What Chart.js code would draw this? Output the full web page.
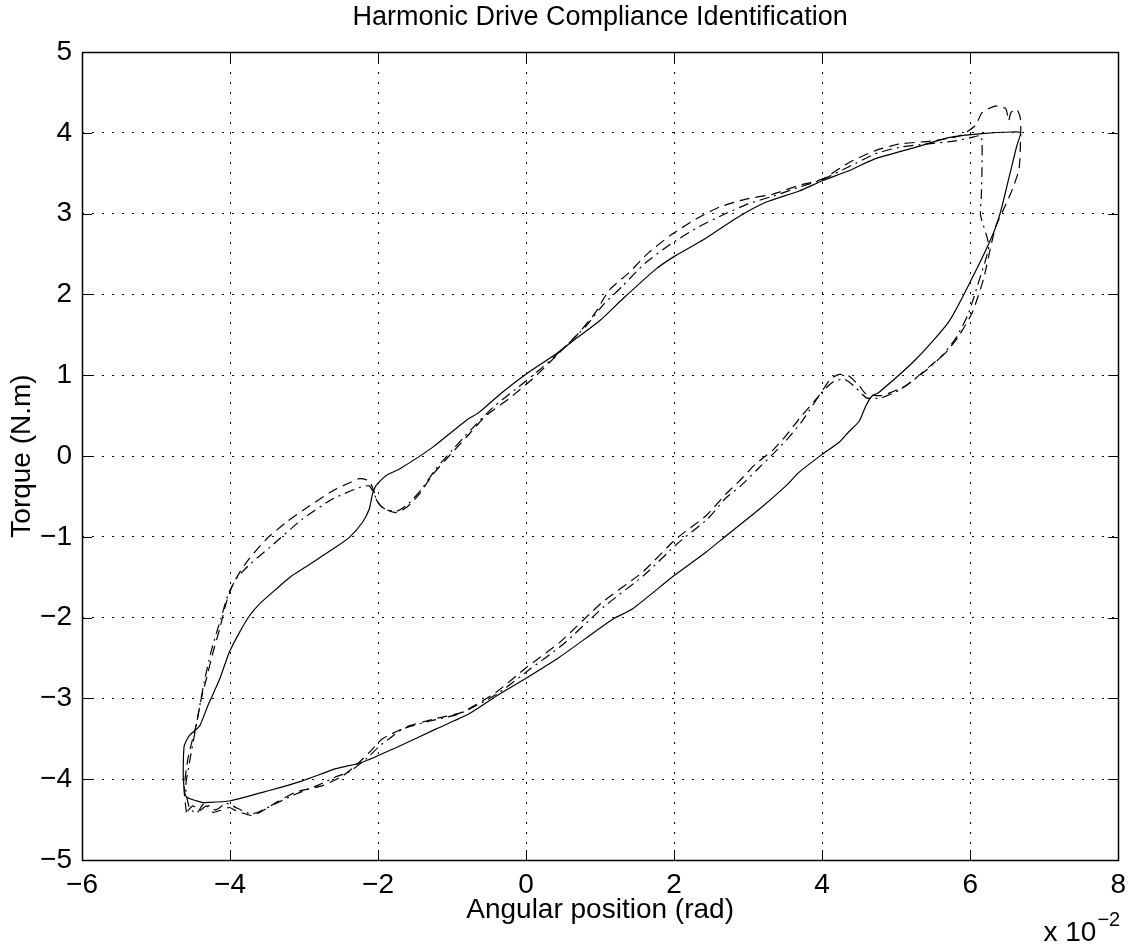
<!DOCTYPE html>
<html><head><meta charset="utf-8">
<script src="https://cdn.jsdelivr.net/npm/chart.js@4.4.1/dist/chart.umd.min.js"></script>
<style>html,body{margin:0;padding:0;background:#fff;overflow:hidden}</style>
</head><body>
<canvas id="c" width="1134" height="948"></canvas>
<script>
const titleText = 'Harmonic Drive Compliance Identification';
const xAxisTitle = 'Angular position (rad)';
const yAxisTitle = 'Torque (N.m)';
const xTicks = [-6, -4, -2, 0, 2, 4, 6, 8];
const xTickLabels = ['\u22126', '\u22124', '\u22122', '0', '2', '4', '6', '8'];
const yTicks = [-5, -4, -3, -2, -1, 0, 1, 2, 3, 4, 5];
const yTickLabels = ['\u22125', '\u22124', '\u22123', '\u22122', '\u22121', '0', '1', '2', '3', '4', '5'];
const xMultiplierBase = 'x 10';
const xMultiplierExp = '\u22122';

// x in units of 1e-2 rad, y in N.m
const solidPoints = [
  [-4.37,-4.29],[-4.59,-4.22],[-4.63,-4.00],[-4.62,-3.59],[-4.55,-3.46],[-4.41,-3.34],[-4.30,-3.09],
  [-4.14,-2.76],[-4.01,-2.43],[-3.87,-2.18],[-3.74,-1.98],[-3.60,-1.83],[-3.38,-1.65],[-3.16,-1.48],
  [-2.89,-1.32],[-2.61,-1.15],[-2.39,-1.01],[-2.21,-0.82],[-2.12,-0.66],[-2.08,-0.49],[-2.03,-0.37],
  [-1.89,-0.24],[-1.71,-0.16],[-1.26,0.11],[-0.81,0.44],[-0.635,0.54],[-0.32,0.79],[0.04,1.04],
  [0.40,1.26],[0.67,1.45],[0.99,1.67],[1.30,1.94],[1.75,2.31],[2.02,2.48],[2.40,2.68],[2.85,2.95],
  [3.24,3.14],[3.69,3.28],[4.01,3.41],[4.36,3.53],[4.72,3.68],[5.26,3.82],[5.71,3.94],[6.16,3.99],
  [6.57,4.01],[6.68,4.00],[6.63,3.84],[6.52,3.43],[6.41,3.02],[6.30,2.73],[6.02,2.19],[5.71,1.66],
  [5.27,1.20],[4.77,0.79],[4.67,0.74],[4.59,0.62],[4.50,0.43],[4.36,0.30],[4.23,0.17],[4.00,0.02],
  [3.69,-0.20],[3.51,-0.37],[3.15,-0.66],[2.70,-0.99],[2.43,-1.19],[2.00,-1.48],[1.44,-1.89],
  [1.17,-2.02],[0.45,-2.49],[0.00,-2.75],[-0.40,-2.97],[-0.77,-3.19],[-1.22,-3.38],[-1.76,-3.61],
  [-2.21,-3.79],[-2.57,-3.87],[-3.02,-4.02],[-3.47,-4.14],[-4.01,-4.27],[-4.37,-4.29]
];
const dashedPoints = [
  [-4.59,-4.41],[-4.62,-4.12],[-4.57,-3.75],[-4.53,-3.59],[-4.46,-3.34],[-4.39,-3.01],[-4.32,-2.76],
  [-4.23,-2.43],[-4.14,-2.14],[-4.05,-1.81],[-3.97,-1.61],[-3.87,-1.44],[-3.74,-1.27],[-3.51,-1.03],
  [-3.24,-0.82],[-2.93,-0.62],[-2.61,-0.43],[-2.43,-0.35],[-2.25,-0.28],[-2.12,-0.31],[-2.05,-0.45],
  [-2.03,-0.53],[-1.94,-0.64],[-1.76,-0.70],[-1.62,-0.64],[-1.44,-0.47],[-1.27,-0.24],[-1.08,-0.04],
  [-0.81,0.23],[-0.54,0.50],[-0.23,0.71],[0.13,0.99],[0.45,1.28],[0.72,1.53],[0.94,1.78],[1.12,2.05],
  [1.39,2.27],[1.66,2.52],[1.98,2.75],[2.29,2.93],[2.61,3.08],[2.97,3.18],[3.33,3.24],[3.69,3.35],
  [4.01,3.43],[4.36,3.63],[4.72,3.78],[5.04,3.86],[5.49,3.90],[5.85,3.96],[6.07,4.09],[6.16,4.25],
  [6.34,4.33],[6.48,4.30],[6.52,4.15],[6.55,4.25],[6.63,4.29],[6.68,4.17],[6.68,3.90],[6.66,3.55],
  [6.57,3.30],[6.45,3.05],[6.35,2.85],[6.29,2.64],[6.18,2.19],[6.03,1.78],[5.85,1.49],[5.67,1.28],
  [5.44,1.10],[5.13,0.87],[4.81,0.75],[4.59,0.77],[4.50,0.87],[4.36,0.99],[4.23,1.01],[4.11,0.95],
  [3.96,0.75],[3.69,0.46],[3.51,0.25],[3.33,0.07],[3.10,-0.10],[2.88,-0.31],[2.70,-0.47],[2.43,-0.74],
  [2.02,-1.03],[1.57,-1.44],[1.03,-1.81],[0.45,-2.31],[0.00,-2.62],[-0.40,-2.92],[-0.86,-3.17],
  [-1.22,-3.25],[-1.58,-3.34],[-1.94,-3.50],[-2.12,-3.67],[-2.30,-3.83],[-2.48,-3.96],[-2.75,-4.08],
  [-3.11,-4.16],[-3.38,-4.29],[-3.56,-4.39],[-3.70,-4.45],[-3.92,-4.39],[-4.01,-4.35],[-4.23,-4.41],
  [-4.32,-4.33],[-4.41,-4.39],[-4.50,-4.33],[-4.59,-4.41]
];
const dashDotPoints = [
  [-4.55,-3.80],[-4.45,-3.30],[-4.35,-2.80],[-4.25,-2.40],[-4.12,-2.00],[-4.02,-1.70],[-3.90,-1.50],
  [-3.72,-1.33],[-3.45,-1.12],[-3.02,-0.78],[-2.61,-0.53],[-2.25,-0.39],[-2.12,-0.37],[-2.05,-0.47],
  [-2.00,-0.58],[-1.90,-0.66],[-1.74,-0.68],[-1.60,-0.60],[-1.42,-0.42],[-1.22,-0.16],[-1.00,0.07],
  [-0.75,0.32],[-0.45,0.60],[-0.15,0.82],[0.20,1.08],[0.50,1.33],[0.80,1.60],[1.05,1.88],[1.30,2.10],
  [1.60,2.38],[1.95,2.62],[2.30,2.82],[2.65,2.98],[3.00,3.12],[3.35,3.22],[3.70,3.33],[4.00,3.42],
  [4.36,3.58],[4.72,3.74],[5.04,3.82],[5.40,3.86],[5.80,3.90],[6.05,3.95],[6.15,3.96],[6.16,3.60],
  [6.15,3.20],[6.14,2.98],[6.25,2.60],[6.12,2.17],[5.97,1.75],[5.80,1.45],[5.60,1.22],[5.35,1.02],
  [5.05,0.82],[4.80,0.72],[4.60,0.72],[4.45,0.85],[4.30,0.95],[4.15,0.92],[3.98,0.77],[3.72,0.42],
  [3.52,0.20],[3.33,0.02],[3.12,-0.17],[2.90,-0.37],[2.70,-0.52],[2.45,-0.78],[2.05,-1.08],[1.60,-1.47],
  [1.06,-1.86],[0.50,-2.33],[0.05,-2.64],[-0.40,-2.95],[-0.90,-3.19],[-1.30,-3.28],[-1.67,-3.38],
  [-1.85,-3.50],[-1.98,-3.59],[-2.15,-3.74],[-2.39,-3.91],[-2.57,-3.97],[-2.75,-4.05],[-3.10,-4.18],
  [-3.38,-4.30],[-3.60,-4.40],[-3.72,-4.43],[-3.90,-4.36],[-4.05,-4.30],[-4.20,-4.38],[-4.35,-4.30],
  [-4.45,-4.42],[-4.55,-4.35],[-4.60,-4.10],[-4.55,-3.80]
];

const FONT = "'Liberation Sans', Arial, Helvetica, sans-serif";
const toXY = pts => pts.map(p => ({x: p[0], y: p[1]}));

const frame = {
  id: 'frame',
  afterDatasetsDraw(chart) {
    const {ctx, chartArea: a, scales: {x, y}} = chart;
    const L = 10;
    ctx.save();
    ctx.strokeStyle = '#000';
    ctx.lineWidth = 1;
    ctx.beginPath();
    xTicks.forEach(v => {
      const px = Math.round(x.getPixelForValue(v)) + 0.5;
      ctx.moveTo(px, a.bottom); ctx.lineTo(px, a.bottom - L);
      ctx.moveTo(px, a.top); ctx.lineTo(px, a.top + L);
    });
    yTicks.forEach(v => {
      const py = Math.round(y.getPixelForValue(v)) + 0.5;
      ctx.moveTo(a.left, py); ctx.lineTo(a.left + L, py);
      ctx.moveTo(a.right, py); ctx.lineTo(a.right - L, py);
    });
    ctx.stroke();
    ctx.lineWidth = 1.5;
    ctx.strokeRect(Math.round(a.left) + 0.5, Math.round(a.top) + 0.5, Math.round(a.right - a.left), Math.round(a.bottom - a.top));
    ctx.fillStyle = '#000';
    ctx.textAlign = 'right';
    ctx.textBaseline = 'alphabetic';
    ctx.font = '20px ' + FONT;
    const ew = ctx.measureText(xMultiplierExp).width;
    const rx = a.right + 2;
    ctx.fillText(xMultiplierExp, rx, 926);
    ctx.font = '28px ' + FONT;
    ctx.fillText(xMultiplierBase, rx - ew - 1, 941);
    ctx.restore();
  }
};

const lineStyle = {showLine: true, borderColor: '#000', borderWidth: 1.2, pointRadius: 0, tension: 0.2, fill: false};

new Chart(document.getElementById('c'), {
  type: 'scatter',
  data: {
    datasets: [
      Object.assign({label: 'solid', data: toXY(solidPoints)}, lineStyle),
      Object.assign({label: 'dashed', data: toXY(dashedPoints), borderDash: [10, 6]}, lineStyle),
      Object.assign({label: 'dashdot', data: toXY(dashDotPoints), borderDash: [10, 5, 2, 5]}, lineStyle)
    ]
  },
  options: {
    responsive: false,
    animation: false,
    devicePixelRatio: 1,
    layout: {padding: {left: 0, right: 15, top: 0, bottom: 0}},
    plugins: {
      legend: {display: false},
      tooltip: {enabled: false},
      title: {display: true, fullSize: false, text: titleText, color: '#000', font: {family: FONT, size: 27, weight: 'normal', lineHeight: 1.2}, padding: {top: 1.8, bottom: 17.8}}
    },
    scales: {
      x: {
        type: 'linear', min: -6, max: 8,
        afterBuildTicks: s => { s.ticks = xTicks.map(v => ({value: v})); },
        afterFit: s => { s.height = 88; },
        ticks: {color: '#000', font: {family: FONT, size: 28}, padding: 8, maxRotation: 0, autoSkip: false,
          callback: v => { const i = xTicks.indexOf(v); return i >= 0 ? xTickLabels[i] : ''; }},
        grid: {color: '#000', lineWidth: 1, drawTicks: false},
        border: {display: false, dash: [2, 8]},
        title: {display: true, text: xAxisTitle, color: '#000', font: {family: FONT, size: 28, lineHeight: 1.2}, padding: {top: 0, bottom: 21.2}}
      },
      y: {
        type: 'linear', min: -5, max: 5,
        afterBuildTicks: s => { s.ticks = yTicks.map(v => ({value: v})); },
        afterFit: s => { s.width = 82; },
        ticks: {color: '#000', font: {family: FONT, size: 28}, padding: 10, autoSkip: false,
          callback: v => { const i = yTicks.indexOf(v); return i >= 0 ? yTickLabels[i] : ''; }},
        grid: {color: '#000', lineWidth: 1, drawTicks: false},
        border: {display: false, dash: [2, 8]},
        title: {display: true, text: yAxisTitle, color: '#000', font: {family: FONT, size: 28, lineHeight: 1.2}, padding: {top: 5.2, bottom: 0}}
      }
    }
  },
  plugins: [frame]
});
</script>
</body></html>
